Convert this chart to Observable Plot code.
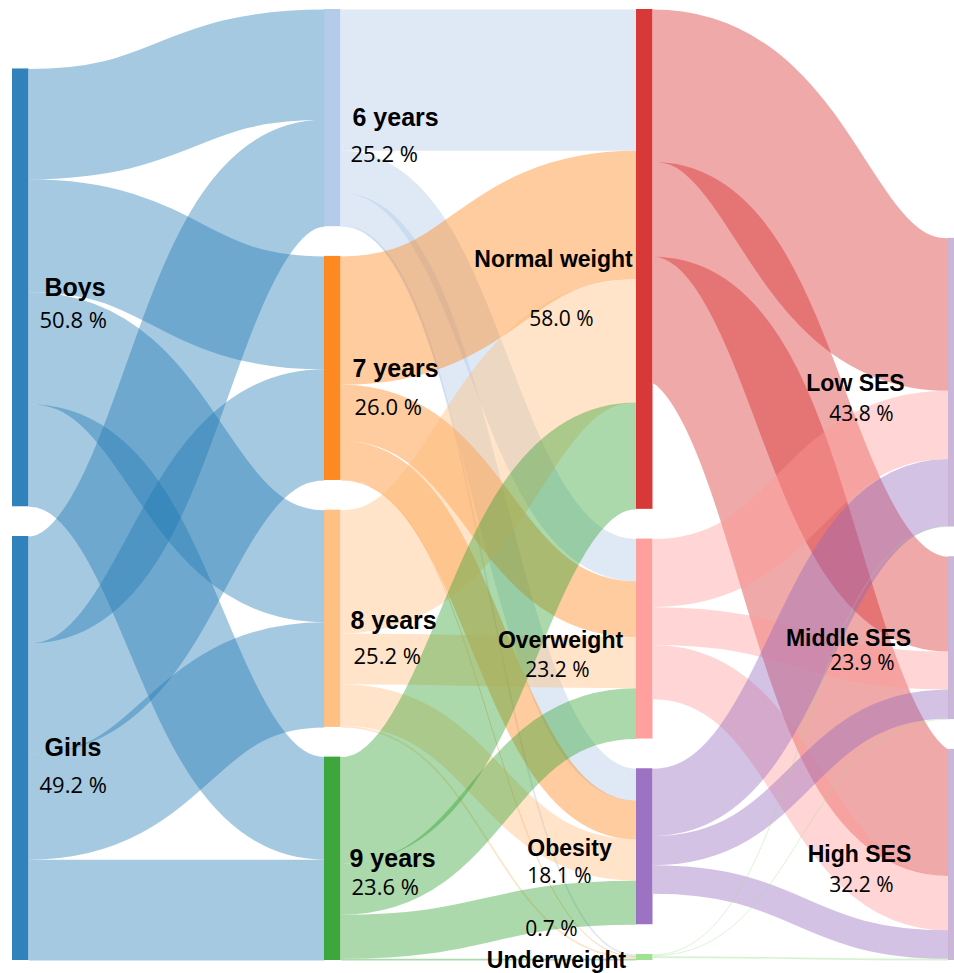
<!DOCTYPE html>
<html>
<head>
<meta charset="utf-8">
<script src="https://cdn.jsdelivr.net/npm/d3@7"></script>
<script src="https://cdn.jsdelivr.net/npm/@observablehq/plot@0.6"></script>
<style>
  html, body { margin: 0; padding: 0; background: #fff; }
  #chart svg { display: block; }
</style>
</head>
<body>
<div id="chart"></div>
<script>
// ---------- DATA ----------
const columns = [
  ["Boys", "Girls"],
  ["6 years", "7 years", "8 years", "9 years"],
  ["Normal weight", "Overweight", "Obesity", "Underweight"],
  ["Low SES", "Middle SES", "High SES"]
];
const nodeShare = {
  "Boys": "50.8 %", "Girls": "49.2 %",
  "6 years": "25.2 %", "7 years": "26.0 %", "8 years": "25.2 %", "9 years": "23.6 %",
  "Normal weight": "58.0 %", "Overweight": "23.2 %", "Obesity": "18.1 %", "Underweight": "0.7 %",
  "Low SES": "43.8 %", "Middle SES": "23.9 %", "High SES": "32.2 %"
};
const nodeColors = {
  "Boys": "#1f77b4", "Girls": "#1f77b4",
  "6 years": "#aec7e8", "7 years": "#ff7f0e", "8 years": "#ffbb78", "9 years": "#2ca02c",
  "Normal weight": "#d62728", "Overweight": "#ff9896", "Obesity": "#9467bd", "Underweight": "#98df8a",
  "Low SES": "#c5b0d5", "Middle SES": "#c5b0d5", "High SES": "#c5b0d5"
};

// flows, in % of all children
const linkSource = [
  "Boys", "Boys", "Boys", "Boys",
  "Girls", "Girls", "Girls", "Girls",
  "6 years", "6 years", "6 years", "6 years",
  "7 years", "7 years", "7 years", "7 years",
  "8 years", "8 years", "8 years", "8 years",
  "9 years", "9 years", "9 years", "9 years",
  "Normal weight", "Normal weight", "Normal weight",
  "Overweight", "Overweight", "Overweight",
  "Obesity", "Obesity", "Obesity",
  "Underweight", "Underweight", "Underweight"
];
const linkTarget = [
  "6 years", "7 years", "8 years", "9 years",
  "6 years", "7 years", "8 years", "9 years",
  "Normal weight", "Overweight", "Obesity", "Underweight",
  "Normal weight", "Overweight", "Obesity", "Underweight",
  "Normal weight", "Overweight", "Obesity", "Underweight",
  "Normal weight", "Overweight", "Obesity", "Underweight",
  "Low SES", "Middle SES", "High SES",
  "Low SES", "Middle SES", "High SES",
  "Low SES", "Middle SES", "High SES",
  "Low SES", "Middle SES", "High SES"
];
const linkValue = [
  12.8, 13.1, 13.0, 11.9,
  12.4, 12.9, 12.2, 11.7,
  16.4, 4.9, 3.7, 0.2,
  14.9, 6.5, 4.5, 0.1,
  14.3, 5.9, 4.8, 0.2,
  12.4, 5.9, 5.1, 0.2,
  17.7, 11.0, 14.7,
  7.9, 4.4, 6.3,
  7.8, 3.4, 3.3,
  0.1, 0.1, 0.2
];

// ---------- LAYOUT (style) ----------
const W = 954, H = 973;
const Y_TOP = 9, Y_BOTTOM = 960;
const X_LEFT = 12, X_RIGHT = 948;
const GAP = 3.45;
const NODE_PX = 16.5;
const COL_PX = (X_RIGHT - X_LEFT) / (columns.length - 1);
const NODE_W = NODE_PX / COL_PX;

// label placement relative to node: [nameDx, nameDy, pctDx, pctDy] px
const labelLayout = {
  "Boys": [32, 0, 27, 33], "Girls": [32, 0, 27, 37],
  "6 years": [28, 0, 26, 37], "7 years": [28, 1, 30, 40],
  "8 years": [26, 2, 29, 38], "9 years": [25, 0, 27, 29],
  "Normal weight": [-83, 0, -75, 60], "Overweight": [-76, 2, -79, 31],
  "Obesity": [-67, 2, -77, 30], "Underweight": [-80, 3, -85, -28],
  "Low SES": [-93, 1, -87, 32], "Middle SES": [-100, 0, -86, 25],
  "High SES": [-89, 0, -87, 30]
};

// ---------- COMPUTE ----------
const links = linkSource.map((s, i) => ({id: i, source: s, target: linkTarget[i], value: linkValue[i]}));
const colOf = {}, rankOf = {};
columns.forEach((col, c) => col.forEach((n, i) => { colOf[n] = c; rankOf[n] = i; }));
const nodes = columns.flatMap((col, c) => col.map(name => {
  const ins = d3.sum(links.filter(l => l.target === name), l => l.value);
  const outs = d3.sum(links.filter(l => l.source === name), l => l.value);
  return {name, col: c, value: Math.max(ins, outs), color: nodeColors[name]};
}));
const colTotal = d3.max(columns, (col, c) =>
  d3.sum(nodes.filter(n => n.col === c), n => n.value) + GAP * (col.length - 1));
// stack each column from the bottom
columns.forEach((col, c) => {
  let y = colTotal;
  nodes.filter(n => n.col === c).reverse().forEach(n => {
    n.y1 = y; n.y0 = y - n.value; y = n.y0 - GAP;
  });
});
// stack link ends at each node, ordered by the position of the other end
nodes.forEach(n => {
  const outs = links.filter(l => l.source === n.name).sort((a, b) => rankOf[a.target] - rankOf[b.target]);
  let y = n.y0;
  outs.forEach(l => { l.sy = y + l.value / 2; y += l.value; });
  const ins = links.filter(l => l.target === n.name).sort((a, b) => rankOf[a.source] - rankOf[b.source]);
  y = n.y0;
  ins.forEach(l => { l.ty = y + l.value / 2; y += l.value; });
});
const pxPerUnit = (Y_BOTTOM - Y_TOP) / colTotal;

const labels = nodes.map(n => {
  const [ndx, ndy, pdx, pdy] = labelLayout[n.name];
  const cy = (n.y0 + n.y1) / 2;
  return {
    name: n.name, pct: nodeShare[n.name], col: n.col,
    nx: n.col + ndx / COL_PX, ny: cy + ndy / pxPerUnit,
    px: n.col + pdx / COL_PX, py: cy + pdy / pxPerUnit
  };
});
const leftLabels = labels.filter(d => d.col < 2);
const rightLabels = labels.filter(d => d.col >= 2);

const chart = Plot.plot({
  width: W, height: H,
  marginTop: 0, marginRight: 0, marginBottom: 0, marginLeft: 0,
  x: {domain: [0, columns.length - 1], range: [X_LEFT, X_RIGHT], axis: null},
  y: {domain: [0, colTotal], range: [Y_TOP, Y_BOTTOM], axis: null},
  color: {type: "identity"},
  style: {background: "#fff"},
  marks: [
    Plot.link(links, {
      x1: l => colOf[l.source] + NODE_W, y1: "sy",
      x2: l => colOf[l.target], y2: "ty",
      stroke: l => nodeColors[l.source], strokeOpacity: 0.4,
      strokeWidth: l => l.value * pxPerUnit,
      curve: "bump-x"
    }),
    Plot.rect(nodes, {x1: "col", x2: d => d.col + NODE_W, y1: "y0", y2: "y1", fill: "color", fillOpacity: 0.92}),
    Plot.text(leftLabels, {x: "nx", y: "ny", text: "name", textAnchor: "start", fontWeight: "bold",
      fontSize: 25, fontFamily: "Liberation Sans, Arial, sans-serif", fill: "#000"}),
    Plot.text(leftLabels, {x: "px", y: "py", text: "pct", textAnchor: "start",
      fontSize: 22, fontFamily: "Open Sans, sans-serif", fill: "#000"}),
    Plot.text(rightLabels, {x: "nx", y: "ny", text: "name", textAnchor: "middle", fontWeight: "bold",
      fontSize: 23, fontFamily: "Liberation Sans, Arial, sans-serif", fill: "#000"}),
    Plot.text(rightLabels, {x: "px", y: "py", text: "pct", textAnchor: "middle",
      fontSize: 21, fontFamily: "Open Sans, sans-serif", fill: "#000"})
  ]
});
document.getElementById("chart").appendChild(chart);
</script>
</body>
</html>
